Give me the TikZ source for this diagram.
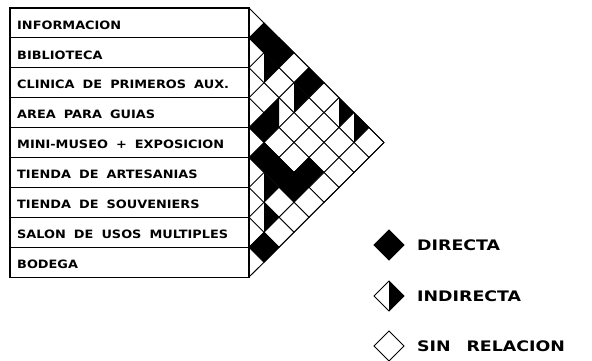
\documentclass[tikz,border=0pt]{standalone}
\usepackage{fontspec}
\usetikzlibrary{shapes.geometric}
\newfontfamily\lblfont{DejaVu Sans}[FakeStretch=1.12, WordSpace=1.8]
\newfontfamily\legfont{DejaVu Sans}[FakeStretch=1.2, WordSpace=2.6]
\tikzset{
  rowbox/.style={draw=black, line width=1.2pt, minimum width=239pt, minimum height=29.9pt, inner sep=0pt, outer sep=0pt, anchor=north west},
  rowtext/.style={anchor=west, inner sep=0pt, font=\lblfont\bfseries\fontsize{11.5}{13}\selectfont},
  legtext/.style={anchor=west, inner sep=0pt, font=\legfont\bfseries\fontsize{14.5}{16}\selectfont},
  cellw/.style={shape=diamond, draw=black, line width=0.9pt, fill=white, minimum width=30pt, minimum height=30pt, inner sep=0pt, outer sep=0pt, aspect=1},
  celld/.style={cellw, fill=black},
  cellir/.style={cellw, path picture={\fill[black] (path picture bounding box.north) -- (path picture bounding box.east) -- (path picture bounding box.south) -- cycle;}},
  cellil/.style={cellw, path picture={\fill[black] (path picture bounding box.north) -- (path picture bounding box.west) -- (path picture bounding box.south) -- cycle;}},
  edge/.style={draw=black, line width=0.9pt}
}
\begin{document}
\begin{tikzpicture}[x=1pt, y=-1pt]
\useasboundingbox[fill=white] (0,0) rectangle (592,361);
% table rows
\foreach \r/\t in {0/INFORMACION, 1/BIBLIOTECA, 2/CLINICA DE PRIMEROS AUX., 3/AREA PARA GUIAS, 4/MINI-MUSEO + EXPOSICION, 5/TIENDA DE ARTESANIAS, 6/TIENDA DE SOUVENIERS, 7/SALON DE USOS MULTIPLES, 8/BODEGA}{
  \node[rowbox] (r\r) at (10, {8+29.9*\r}) {};
  \node[rowtext] (t\r) at ([xshift=7pt, yshift=-2pt]r\r.west) {\t};
}
% relation cells
\foreach \i/\j/\s in {
  0/1/celld, 0/2/celld, 0/3/cellw, 0/4/celld, 0/5/cellw, 0/6/cellir, 0/7/cellir, 0/8/cellw,
  1/2/cellir, 1/3/cellw, 1/4/cellir, 1/5/cellw, 1/6/cellw, 1/7/cellw, 1/8/cellw,
  2/3/cellw, 2/4/cellil, 2/5/cellw, 2/6/cellw, 2/7/cellw, 2/8/cellw,
  3/4/celld, 3/5/cellw, 3/6/cellw, 3/7/celld, 3/8/cellw,
  4/5/celld, 4/6/celld, 4/7/celld, 4/8/cellw,
  5/6/cellir, 5/7/cellw, 5/8/cellw,
  6/7/cellir, 6/8/cellw,
  7/8/celld}{
  \node[\s] (c\i\j) at ({249+15*(\j-\i)}, {8+14.95*(\i+\j+1)}) {};
}
% outer edges of the triangle
\draw[edge] (r0.north east) -- (c08.east);
\draw[edge] (r8.south east) -- (c08.east);
% legend
\node[celld] (l1) at (389,245) {};
\node[cellir] (l2) at (389,296) {};
\node[cellw] (l3) at (389,346) {};
\node[legtext] (lt1) at ([xshift=13pt]l1.east) {DIRECTA};
\node[legtext] (lt2) at ([xshift=13pt]l2.east) {INDIRECTA};
\node[legtext] (lt3) at ([xshift=13pt]l3.east) {SIN RELACION};
\end{tikzpicture}
\end{document}
